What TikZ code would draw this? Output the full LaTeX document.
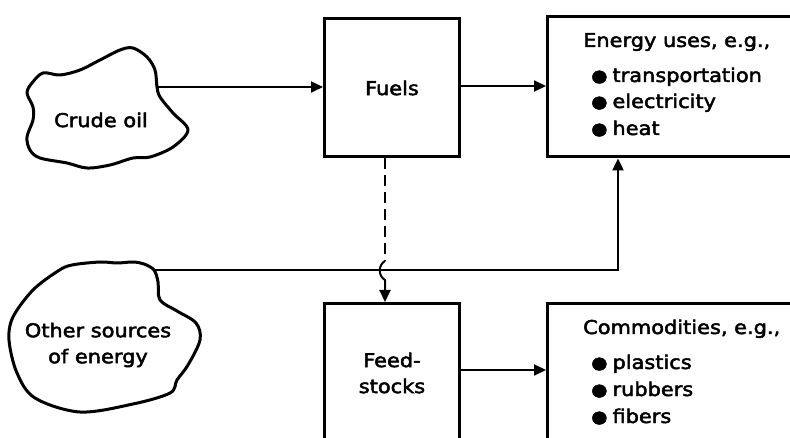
\documentclass[tikz,border=0pt]{standalone}
\usepackage{fontspec}
\setmainfont{DejaVu Sans}[FakeStretch=1.1, FakeBold=2.5]
\usetikzlibrary{arrows.meta}
\newcommand{\blt}{\raisebox{0.5pt}{\fontsize{17}{17}\selectfont ●}\hspace{5pt}}
\begin{document}
\begin{tikzpicture}[x=1pt,y=-1pt,
  box/.style={draw, line width=3.4pt, inner sep=0pt, anchor=north west},
  link/.style={line width=2pt, -{Triangle[length=12pt,width=11pt]}},
  plainline/.style={line width=2pt},
  blob/.style={draw, line width=3pt, line join=round},
  lbl/.style={font=\fontsize{19}{26}\selectfont, inner sep=0pt},
  item/.style={lbl, anchor=base west},
]
\useasboundingbox (0,0) rectangle (790,438);
\clip (0,0) rectangle (790,438);

% process boxes (the right-hand and lower ones run past the frame)
\node[box, minimum width=135pt, minimum height=138pt] (fuels) at (323,17) {};
\node[box, minimum width=135pt, minimum height=170pt] (feed) at (323,302) {};
\node[box, minimum width=274pt, minimum height=140pt] (energy) at (546,15) {};
\node[box, minimum width=274pt, minimum height=170pt] (commod) at (546,302) {};

% source clouds
\draw[blob] plot[smooth cycle, tension=0.55] coordinates {
  (157,87) (155,70) (147,57) (133,48) (120,50) (100,60) (80,70) (60,75)
  (43,73) (32,83) (27,93) (33,107) (33,120) (27,137) (30,150) (40,158)
  (67,163) (87,168) (110,165) (133,158) (150,157) (173,147) (188,130)
  (173,113) (160,97)};
\coordinate (crude) at (157,87);
\node[lbl] (crudetxt) at (101,120) {Crude oil};

\draw[blob] plot[smooth cycle, tension=0.55] coordinates {
  (154,270) (158,282) (160,300) (177,311) (196,323) (200,340) (188,365)
  (177,380) (170,393) (133,404) (80,412) (35,398) (17,373) (9,340)
  (13,317) (33,290) (58,271) (72,265) (100,262) (117,263) (133,262)
  (144,264)};
\coordinate (other) at (155,270);
\node[lbl, align=center] (othertxt) at (98,345) {Other sources\\of energy};

% box labels
\node[lbl] (fuelstxt) at (392,88) {Fuels};
\node[lbl, align=center] (feedtxt) at (392,373) {Feed-\\stocks};

\node[item] (eh) at (583,47) {Energy uses, e.g.,};
\node[item] (e1) at (591,82) {\blt transportation};
\node[item] (e2) at (591,108) {\blt electricity};
\node[item] (e3) at (591,135) {\blt heat};

\node[item] (ch) at (583,334) {Commodities, e.g.,};
\node[item] (c1) at (591,369) {\blt plastics};
\node[item] (c2) at (591,396) {\blt rubbers};
\node[item] (c3) at (591,423) {\blt fibers};

% connectors
\draw[link] (crude) -- (crude -| fuels.west);
\draw[link] (fuels.east |- 0,86) -- (energy.west |- 0,86);
\draw[link] (feed.east |- 0,370) -- (commod.west |- 0,370);

\coordinate (bend) at (618,270);
\draw[link] (other) -- (bend) -- (bend |- energy.south);

% dashed feed line hopping over the horizontal line
\coordinate (hopin) at (385,261);
\coordinate (hopout) at (385,280);
\draw[plainline, dash pattern=on 11pt off 6pt] (fuels.south -| hopin) -- (hopin);
\draw[link] (hopin) .. controls (378,265) and (378,276) .. (hopout) -- (feed.north -| hopin);
\end{tikzpicture}
\end{document}
